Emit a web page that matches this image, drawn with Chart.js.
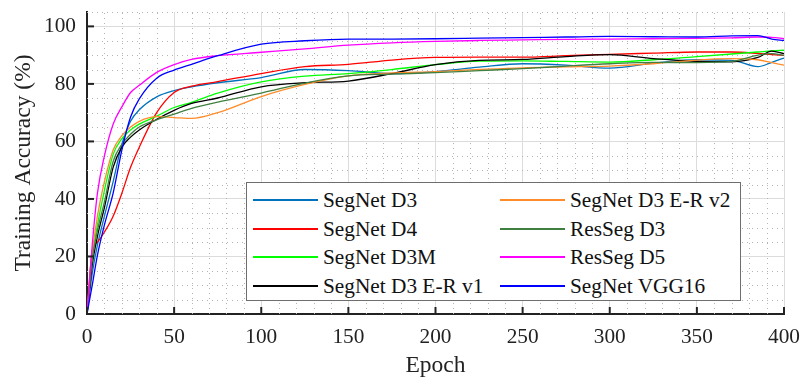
<!DOCTYPE html>
<html>
<head>
<meta charset="utf-8">
<script src="https://cdn.jsdelivr.net/npm/chart.js@4.4.0/dist/chart.umd.min.js"></script>
<style>
  html, body { margin: 0; padding: 0; background: #fff; }
  #wrap { position: relative; width: 802px; height: 380px; }
  #legend {
    position: absolute; left: 246px; top: 182px; width: 493px; height: 117px;
    border: 1.5px solid #6e6e6e; background: #fff;
    font-family: "Liberation Serif", "DejaVu Serif", serif; font-size: 21.3px; color: #111;
  }
  .item { position: absolute; height: 28px; line-height: 28px; white-space: nowrap; }
  .item span.ln { position: absolute; left: 0; top: 13px; width: 65px; height: 2px; }
  .item span.tx { position: absolute; left: 70px; top: 0; }
</style>
</head>
<body>
<div id="wrap">
  <canvas id="chart" width="802" height="380"></canvas>
  <div id="legend"></div>
</div>
<script>
/* training accuracy curves */

const epochs = [0, 3, 6, 10, 15, 20, 25, 30, 40, 50, 60, 75, 100, 125, 150, 175, 200, 225, 250, 275, 300, 325, 350, 370, 385, 393, 400];

const segnetD3   = [0, 14, 24, 34, 46, 59, 67, 71, 75.5, 77.7, 79, 80.4, 82.2, 85, 84.6, 83.6, 84.3, 85.8, 87, 86.5, 85.5, 87.2, 88.4, 88.2, 86, 87.5, 89];
const segnetD4   = [0, 22, 25, 28.5, 34, 42, 51, 58, 70, 77, 79.2, 80.8, 83.6, 86, 86.8, 88.3, 89.2, 89.3, 89.3, 89.8, 90.3, 90.7, 91.1, 91.1, 90.6, 90.2, 89.9];
const segnetD3M  = [0, 20, 31, 43, 55.5, 61, 64, 66, 68.8, 71.8, 73.6, 76.8, 80.7, 82.7, 83.6, 85, 86.7, 87.9, 88, 87.8, 87.6, 88.4, 89.5, 90.4, 91.1, 91.5, 91.7];
const segnetERv1 = [0, 17, 27, 37, 51, 58, 61.5, 64, 67.7, 70.8, 73.2, 75.1, 79, 80.4, 81, 83.6, 86.7, 88.2, 88.5, 89.5, 90.2, 88.8, 87.8, 87.7, 89.2, 91.4, 90.5];
const segnetERv2 = [0, 21, 34, 46, 57, 62, 65, 67, 68.6, 68.3, 68, 70, 75.6, 79.8, 82.8, 83.8, 84.3, 85, 85.6, 85.9, 86.2, 87, 88.3, 88.8, 88.4, 87.4, 86.5];
const resSegD3   = [0, 19, 29, 39, 53, 59, 62.5, 65, 67.5, 69.5, 71.5, 73.7, 76.8, 80.3, 82.8, 83.4, 83.9, 84.6, 85.3, 86.2, 87, 87.5, 87.4, 87.8, 90, 90.5, 89.9];
const resSegD5   = [0, 24, 42, 55, 66, 72, 77, 79.5, 84, 86.7, 88.5, 89.8, 91, 92.2, 93.5, 94.3, 94.8, 95.1, 95.3, 95.5, 95.6, 95.7, 95.8, 96, 96.3, 96.2, 95.7];
const segnetVGG  = [0, 10, 20.5, 31, 42, 57, 68.5, 74.8, 82, 84.8, 86.8, 89.8, 93.8, 95, 95.6, 95.6, 95.7, 95.9, 96.1, 96.3, 96.5, 96.4, 96.3, 96.7, 96.8, 95.6, 95.1];

const names  = ["SegNet D3", "SegNet D4", "SegNet D3M", "SegNet D3 E-R v1",
                "SegNet D3 E-R v2", "ResSeg D3", "ResSeg D5", "SegNet VGG16"];
const series = [segnetD3, segnetD4, segnetD3M, segnetERv1, segnetERv2, resSegD3, resSegD5, segnetVGG];
const colors = ["#0072bd", "#ff0000", "#00ff00", "#000000", "#ff8c2a", "#3f7f3f", "#ff00ff", "#0000ff"];

const xTicks = [0, 50, 100, 150, 200, 250, 300, 350, 400];
const yTicks = [0, 20, 40, 60, 80, 100];

const FONT = "'Liberation Serif', 'DejaVu Serif', serif";

/* dotted minor grid + inward tick marks, positioned through the scales */
const axisExtras = {
  id: "axisExtras",
  beforeDatasetsDraw(chart) {
    const { ctx, chartArea: a, scales: { x, y } } = chart;
    ctx.save();
    ctx.strokeStyle = "#b4b4b4";
    ctx.lineWidth = 1;
    ctx.setLineDash([1, 4]);
    for (let v = 10; v <= 400; v += 10) {
      if (v % 50 === 0) continue;
      const px = Math.round(x.getPixelForValue(v)) + 0.5;
      ctx.beginPath(); ctx.moveTo(px, a.bottom); ctx.lineTo(px, a.top); ctx.stroke();
    }
    for (let v = 5; v <= 105; v += 5) {
      if (v % 20 === 0) continue;
      const py = Math.round(y.getPixelForValue(v)) + 0.5;
      ctx.beginPath(); ctx.moveTo(a.left, py); ctx.lineTo(a.right, py); ctx.stroke();
    }
    ctx.restore();
  },
  afterDatasetsDraw(chart) {
    const { ctx, chartArea: a, scales: { x, y } } = chart;
    ctx.save();
    ctx.strokeStyle = "#222";
    ctx.lineWidth = 2;
    xTicks.forEach((v) => {
      const px = x.getPixelForValue(v);
      ctx.beginPath(); ctx.moveTo(px, a.bottom); ctx.lineTo(px, a.bottom - 7); ctx.stroke();
    });
    yTicks.forEach((v) => {
      const py = y.getPixelForValue(v);
      ctx.beginPath(); ctx.moveTo(a.left, py); ctx.lineTo(a.left + 7, py); ctx.stroke();
    });
    ctx.restore();
  },
};

// drop the label overhang padding so the plot box is set by layout.padding alone
function noPad(s) {
  s.paddingLeft = 0; s.paddingRight = 0; s.paddingTop = 0; s.paddingBottom = 0;
}

const datasets = names.map((n, i) => ({
  label: n,
  data: epochs.map((e, k) => ({ x: e, y: series[i][k] })),
  borderColor: colors[i],
  borderWidth: 1.3,
  pointRadius: 0,
  fill: false,
  cubicInterpolationMode: "monotone",
  order: names.length - i,
}));

new Chart(document.getElementById("chart"), {
  type: "line",
  data: { datasets },
  plugins: [axisExtras],
  options: {
    responsive: false,
    animation: false,
    layout: { padding: { top: 12, right: 18, left: 0, bottom: 0 } },
    plugins: { legend: { display: false }, tooltip: { enabled: false } },
    scales: {
      x: {
        type: "linear", min: 0, max: 400,
        afterBuildTicks: (s) => { s.ticks = xTicks.map((v) => ({ value: v })); },
        afterFit: (s) => { s.height = 66; noPad(s); },
        grid: { color: "#dcdcdc", lineWidth: 1, drawTicks: false },
        border: { color: "#222", width: 2 },
        ticks: { color: "#222", padding: 11, font: { family: FONT, size: 21.3 } },
        title: { display: true, text: "Epoch", color: "#222", padding: { top: 0, bottom: 0 }, font: { family: FONT, size: 23.5 } },
      },
      y: {
        type: "linear", min: 0, max: 105,
        afterBuildTicks: (s) => { s.ticks = yTicks.map((v) => ({ value: v })); },
        afterFit: (s) => { s.width = 87; noPad(s); },
        grid: { color: "#dcdcdc", lineWidth: 1, drawTicks: false },
        border: { color: "#222", width: 2 },
        ticks: { color: "#222", padding: 11, font: { family: FONT, size: 21.3 } },
        title: { display: true, text: "Training Accuracy (%)", color: "#222", padding: { top: 10, bottom: 0 }, font: { family: FONT, size: 23.5 } },
      },
    },
  },
});

/* legend: two columns, filled column by column */
const legend = document.getElementById("legend");
names.forEach((n, i) => {
  const col = Math.floor(i / 4), row = i % 4;
  const it = document.createElement("div");
  it.className = "item";
  it.style.left = (6 + col * 247) + "px";
  it.style.top = (3 + row * 28.5) + "px";
  const ln = document.createElement("span");
  ln.className = "ln";
  ln.style.background = colors[i];
  const tx = document.createElement("span");
  tx.className = "tx";
  tx.textContent = n;
  it.appendChild(ln);
  it.appendChild(tx);
  legend.appendChild(it);
});
</script>
</body>
</html>
